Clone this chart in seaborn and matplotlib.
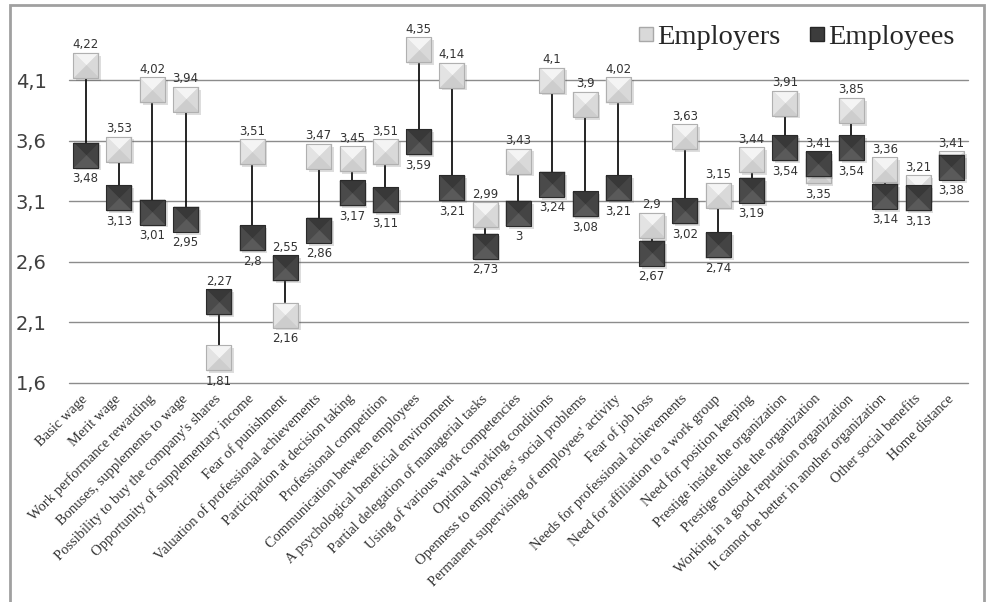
import numpy as np
import pandas as pd
import matplotlib
matplotlib.use("Agg")
import matplotlib.pyplot as plt
import matplotlib.patheffects as pe
import seaborn as sns
from matplotlib.path import Path
from matplotlib.lines import Line2D
from matplotlib.patches import Rectangle

# ---- data -------------------------------------------------------------
categories = [
    "Basic wage",
    "Merit wage",
    "Work performance rewarding",
    "Bonuses, supplements to wage",
    "Possibility to buy the company's shares",
    "Opportunity of supplementary income",
    "Fear of punishment",
    "Valuation of professional achievements",
    "Participation at decision taking",
    "Professional competition",
    "Communication between employees",
    "A psychological beneficial environment",
    "Partial delegation of managerial tasks",
    "Using of various work competencies",
    "Optimal working conditions",
    "Openness to employees' social problems",
    "Permanent supervising of employees' activity",
    "Fear of job loss",
    "Needs for professional achievements",
    "Need for affiliation to a work group",
    "Need for position keeping",
    "Prestige inside the organization",
    "Prestige outside the organization",
    "Working in a good reputation organization",
    "It cannot be better in another organization",
    "Other social benefits",
    "Home distance",
]
employers = [4.22, 3.53, 4.02, 3.94, 1.81, 3.51, 2.16, 3.47, 3.45, 3.51,
             4.35, 4.14, 2.99, 3.43, 4.10, 3.90, 4.02, 2.90, 3.63, 3.15,
             3.44, 3.91, 3.35, 3.85, 3.36, 3.21, 3.41]
employees = [3.48, 3.13, 3.01, 2.95, 2.27, 2.80, 2.55, 2.86, 3.17, 3.11,
             3.59, 3.21, 2.73, 3.00, 3.24, 3.08, 3.21, 2.67, 3.02, 2.74,
             3.19, 3.54, 3.41, 3.54, 3.14, 3.13, 3.38]
y_ticks = [1.6, 2.1, 2.6, 3.1, 3.6, 4.1]
series_names = ["Employers", "Employees"]

pos = np.arange(len(categories))
df = pd.DataFrame({
    "pos": np.concatenate([pos, pos]),
    "group": [series_names[0]] * len(pos) + [series_names[1]] * len(pos),
    "score": employers + employees,
})


def fmt(v):
    return f"{v:g}".replace(".", ",")


# ---- styling ----------------------------------------------------------
sns.set_theme(style="white")
plt.rcParams["font.family"] = ["DejaVu Sans"]

W, H = 987, 602
fig = plt.figure(figsize=(W / 100, H / 100), dpi=100)
ax = fig.add_axes([69 / W, 1 - 383 / H, (968 - 69) / W, (383 - 19.4) / H])
ax.set_xlim(-0.5, len(categories) - 0.5)
ax.set_ylim(1.6, 4.6)

# bevelled square markers: four triangular facets meeting in the centre
def tri(verts):
    return Path(verts + [(0, 0)],
                [Path.MOVETO, Path.LINETO, Path.LINETO, Path.CLOSEPOLY])

facets = {
    "top": tri([(0, 0), (-1, 1), (1, 1)]),
    "left": tri([(0, 0), (-1, -1), (-1, 1)]),
    "right": tri([(0, 0), (1, 1), (1, -1)]),
    "bottom": tri([(0, 0), (1, -1), (-1, -1)]),
}
styles = {
    "Employers": dict(base="#dcdcdc", edge="#b0b0b0", z=3,
                      facets={"top": "#f4f4f4", "left": "#e3e3e3",
                              "right": "#d9d9d9", "bottom": "#cdcdcd"}),
    "Employees": dict(base="#444444", edge="#2a2a2a", z=4,
                      facets={"top": "#383838", "left": "#4a4a4a",
                              "right": "#444444", "bottom": "#5a5a5a"}),
}
msize = 18 ** 2

# connecting high-low lines
ax.vlines(pos, np.minimum(employers, employees), np.maximum(employers, employees),
          color="black", lw=1.2, zorder=2)

for name in series_names:
    st = styles[name]
    sub = df[df["group"] == name]
    sns.scatterplot(data=sub, x="pos", y="score", marker="s", s=msize,
                    color=st["base"], edgecolor="none", linewidth=0,
                    ax=ax, zorder=st["z"], legend=False)
    ax.collections[-1].set_path_effects(
        [pe.SimplePatchShadow(offset=(2, -2), alpha=0.18, shadow_rgbFace="#444444"),
         pe.Normal()])
    for key, path in facets.items():
        ax.scatter(sub["pos"], sub["score"], marker=path, s=msize,
                   color=st["facets"][key], edgecolors=st["facets"][key],
                   linewidths=0.3, zorder=st["z"] + 0.1)
    ax.scatter(sub["pos"], sub["score"], marker="s", s=msize,
               facecolors="none", edgecolors=st["edge"], linewidths=0.8,
               zorder=st["z"] + 0.2)

# value labels: higher value above, lower value below
for i, (a, b) in enumerate(zip(employers, employees)):
    hi, lo = max(a, b), min(a, b)
    ax.annotate(fmt(hi), (i, hi), xytext=(0, 17), textcoords="offset pixels",
                ha="center", va="baseline", fontsize=8.5, color="#333333", zorder=6)
    ax.annotate(fmt(lo), (i, lo), xytext=(0, -17), textcoords="offset pixels",
                ha="center", va="top", fontsize=8.5, color="#333333", zorder=6)

# axes
ax.set_yticks(y_ticks)
ax.set_yticklabels([fmt(t) for t in y_ticks])
ax.tick_params(axis="y", length=0, pad=16, labelsize=14, labelcolor="#404040")
ax.yaxis.grid(True, color="#8c8c8c", lw=1)
for gl in ax.get_ygridlines():
    gl.set_clip_on(False)
ax.xaxis.grid(False)
for sp in ax.spines.values():
    sp.set_visible(False)

ax.set_xticks(pos)
ax.set_xticklabels(categories, rotation=45, ha="right", va="center",
                   rotation_mode="anchor", fontfamily="Liberation Serif",
                   fontsize=10.5, color="#333333")
ax.tick_params(axis="x", length=0, pad=10)
ax.set_xlabel("")
ax.set_ylabel("")

# legend
handles = [
    Line2D([], [], ls="none", marker="s", markersize=10,
           markerfacecolor="#d9d9d9", markeredgecolor="#a8a8a8"),
    Line2D([], [], ls="none", marker="s", markersize=10,
           markerfacecolor="#3c3c3c", markeredgecolor="#262626"),
]
fig.legend(handles, series_names, loc="center right",
           bbox_to_anchor=(955 / W, 1 - 37 / H), ncol=2, frameon=False,
           prop={"family": "Liberation Serif", "size": 20.5},
           handlelength=0.6, handletextpad=0.1, columnspacing=1.0,
           borderpad=0, borderaxespad=0)

# outer frame
fig.patches.append(Rectangle((10 / W, -0.02), (984 - 10) / W, 1 - 4.5 / H + 0.02,
                             transform=fig.transFigure, fill=False,
                             edgecolor="#a0a0a0", lw=2))

fig.savefig("out.png", dpi=100)
